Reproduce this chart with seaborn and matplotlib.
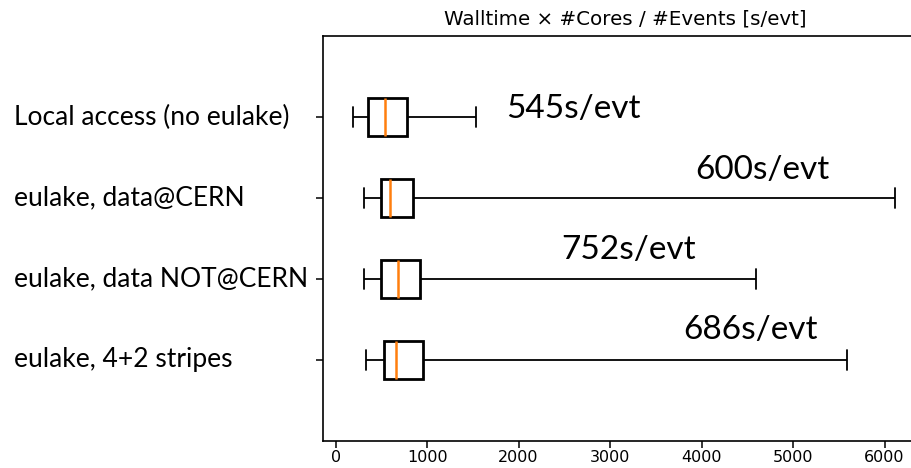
import pandas as pd
import seaborn as sns
import matplotlib.pyplot as plt
from matplotlib.transforms import blended_transform_factory

# Box statistics (s/evt)
setups = ['Local access (no eulake)', 'eulake, data@CERN',
          'eulake, data NOT@CERN', 'eulake, 4+2 stripes']
low = [188, 312, 315, 334]
q1 = [352, 498, 498, 531]
median = [539, 594, 685, 659]
q3 = [780, 850, 926, 956]
high = [1533, 6118, 4598, 5592]
mean_labels = ['545s/evt', '600s/evt', '752s/evt', '686s/evt']
label_x = [1860, 3935, 2463, 3804]
label_y = [-0.1, 0.66, 1.64, 2.63]

# five points per setup give exactly these quartiles and whisker ends
rows = []
for i, name in enumerate(setups):
    for v in [low[i], q1[i], median[i], q3[i], high[i]]:
        rows.append({'setup': name, 'walltime': v})
df = pd.DataFrame(rows)

sns.set_style('ticks', {'axes.edgecolor': 'black', 'text.color': 'black',
                        'xtick.color': 'black', 'ytick.color': 'black'})
plt.rcParams['font.family'] = ['DejaVu Sans']
big_font = ['Lato', 'DejaVu Sans']

fig = plt.figure(figsize=(9.12, 4.68), dpi=100)
ax = fig.add_axes([323 / 912, 27 / 468, 1 - 323 / 912 + 0.01, 405 / 468])

sns.boxplot(data=df, x='walltime', y='setup', orient='h', whis=(0, 100),
            width=0.47, color='white', linecolor='black', linewidth=1.4,
            showfliers=False, ax=ax,
            boxprops={'linewidth': 2.0},
            medianprops={'color': '#ff7f0e', 'linewidth': 1.8},
            whiskerprops={'linewidth': 1.3},
            capprops={'linewidth': 1.3})

ax.set_xlim(-138, 6400)
ax.set_ylim(4, -1)
ax.set_xticks([0, 1000, 2000, 3000, 4000, 5000, 6000])
ax.tick_params(axis='x', labelsize=11.5, width=1.1, length=5, pad=1.5)
ax.tick_params(axis='y', labelleft=False, width=1.1, length=5)
ax.set_xlabel('')
ax.set_ylabel('')
for side in ['left', 'bottom', 'top']:
    ax.spines[side].set_linewidth(1.2)
ax.spines['right'].set_visible(False)

# category names, left aligned at the figure edge
trans = blended_transform_factory(fig.transFigure, ax.transData)
for i, name in enumerate(setups):
    ax.text(14 / 912, i, name, transform=trans, ha='left', va='center',
            fontsize=19, family=big_font, color='black')

# mean annotations
for i, lab in enumerate(mean_labels):
    ax.text(label_x[i], label_y[i], lab, ha='left', va='center',
            fontsize=24, family=big_font, color='black')

fig.text(625 / 912, 1 - 19 / 468, 'Walltime \u00d7 #Cores / #Events [s/evt]',
         ha='center', va='center', fontsize=14.3)

fig.savefig('out.png', dpi=100)
